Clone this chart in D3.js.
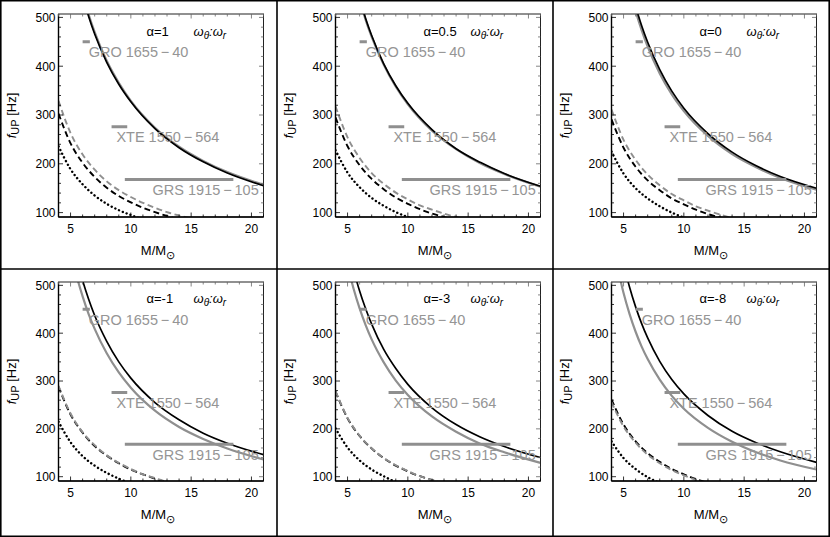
<html>
<head>
<meta charset="utf-8">
<style>
  body { margin: 0; background: #fff; }
  svg { display: block; font-family: "Liberation Sans", Arial, sans-serif; }
  .tick-label { font-size: 12px; fill: #000; }
  .src-label { font-size: 14.5px; fill: #959595; }
</style>
</head>
<body>
<div id="chart"><svg></svg></div>
<script src="https://d3js.org/d3.v7.min.js"></script>
<script>
// panel values of alpha, left-to-right then top-to-bottom
var alphaLabels = ["1", "0.5", "0", "-1", "-3", "-8"];

// masses where the curves were read (M/Msun)
var massSolid = [4.5, 5, 5.5, 6, 6.5, 7, 8, 9, 10, 12, 14, 16, 18, 21];
var massLow = [4, 5, 6, 7, 8, 9, 10, 11, 12, 13, 14, 15];

// f_UP [Hz]
var blackSolid = [
  [726, 653, 594, 544, 502, 466, 408, 363, 327, 272, 233, 204, 181, 155],
  [720, 648, 589, 540, 498, 463, 405, 360, 324, 270, 231, 203, 180, 154],
  [698, 628, 571, 523, 483, 449, 393, 349, 314, 262, 224, 196, 174, 150],
  [680, 612, 556, 510, 471, 437, 383, 340, 306, 255, 219, 191, 170, 146],
  [651, 586, 533, 488, 451, 419, 366, 326, 293, 244, 209, 183, 163, 140],
  [607, 546, 496, 455, 420, 390, 341, 303, 273, 228, 195, 171, 152, 130]
];
var graySolid = [
  [731, 658, 598, 548, 506, 470, 411, 366, 329, 274, 235, 206, 183, 157],
  [716, 644, 585, 537, 495, 460, 403, 358, 322, 268, 230, 201, 179, 153],
  [684, 616, 560, 513, 474, 440, 385, 342, 308, 257, 220, 193, 171, 147],
  [636, 572, 520, 477, 440, 409, 358, 318, 286, 238, 204, 179, 159, 136],
  [602, 542, 493, 452, 417, 387, 339, 301, 271, 226, 194, 169, 151, 129],
  [538, 484, 440, 403, 372, 346, 303, 269, 242, 202, 173, 151, 134, 115]
];
var grayDashed = [
  [329, 263, 219, 188, 164, 146, 132, 120, 110, 101, 94, 88],
  [318, 254, 212, 181, 159, 141, 127, 115, 106, 98, 91, 85],
  [311, 249, 208, 178, 156, 138, 125, 113, 104, 96, 89, 83],
  [290, 232, 193, 166, 145, 129, 116, 105, 97, 89, 83, 77],
  [279, 223, 186, 159, 139, 124, 112, 101, 93, 86, 80, 74],
  [256, 205, 171, 146, 128, 114, 103, 93, 85, 79, 73, 68]
];
var blackDashed = [
  [303, 242, 202, 173, 151, 134, 121, 110, 101, 93, 86, 81],
  [295, 236, 197, 169, 148, 131, 118, 107, 98, 91, 84, 79],
  [291, 233, 194, 166, 146, 129, 117, 106, 97, 90, 83, 78],
  [288, 230, 192, 164, 144, 128, 115, 105, 96, 88, 82, 77],
  [278, 222, 185, 159, 139, 123, 111, 101, 93, 85, 79, 74],
  [261, 209, 174, 149, 131, 116, 105, 95, 87, 80, 75, 70]
];
var blackDotted = [
  [236, 189, 158, 135, 118, 105, 95, 86, 79, 73, 68, 63],
  [228, 182, 152, 130, 114, 101, 91, 83, 76, 70, 65, 61],
  [225, 180, 150, 129, 113, 100, 90, 82, 75, 69, 64, 60],
  [215, 172, 143, 123, 108, 96, 86, 78, 72, 66, 61, 57],
  [201, 161, 134, 115, 101, 89, 81, 73, 67, 62, 58, 54],
  [174, 139, 116, 99, 87, 77, 70, 63, 58, 53, 50, 46]
];

// observed sources: mass range and QPO frequency
var sourceNames = ["GRO 1655\u2009\u2212\u200940", "XTE 1550\u2009\u2212\u2009564", "GRS 1915\u2009\u2212\u2009105"];
var sourceMassLo = [6.0, 8.4, 9.5];
var sourceMassHi = [6.6, 9.7, 18.5];
var sourceFreq = [450, 276, 168];
var sourceLabelM = [6.5, 8.8, 11.8];
var sourceLabelF = [429, 255, 146];

var xTicks = [5, 10, 15, 20];
var yTicks = [100, 200, 300, 400, 500];

var W = 830, H = 537;
var colX = [0, 277, 553, 830];
var rowY = [0, 269, 537];
var plotTop = [14, 282];
var plotBottom = [217, 481];
var gray = "#8f8f8f";

var svg = d3.select("#chart svg").attr("width", W).attr("height", H);

function drawPanel(i) {
  var c = i % 3, r = Math.floor(i / 3);
  var left = colX[c] + 58.5, right = left + 205;
  var top = plotTop[r], bottom = plotBottom[r];

  var x = d3.scaleLinear().domain([4, 21]).range([left, right]);
  var y = d3.scaleLinear().domain([91, 507]).range([bottom, top]);

  var g = svg.append("g");
  var clipId = "clip" + i;
  g.append("clipPath").attr("id", clipId)
    .append("rect").attr("x", left).attr("y", top)
    .attr("width", right - left).attr("height", bottom - top);

  var plot = g.append("g").attr("clip-path", "url(#" + clipId + ")");

  var line = d3.line()
    .x(function(d) { return x(d[0]); })
    .y(function(d) { return y(d[1]); })
    .curve(d3.curveMonotoneX);

  function curve(ms, vals, color, width, dash, cap) {
    plot.append("path")
      .datum(ms.map(function(m, k) { return [m, vals[k]]; }))
      .attr("d", line)
      .attr("fill", "none")
      .attr("stroke", color)
      .attr("stroke-width", width)
      .attr("stroke-dasharray", dash)
      .attr("stroke-linecap", cap || "butt");
  }

  curve(massLow, blackDotted[i], "#000", 2.4, "0.1,4", "round");
  curve(massLow, blackDashed[i], "#000", 1.9, "6,3.5");
  curve(massLow, grayDashed[i], gray, 1.9, "6,3.5");
  curve(massSolid, graySolid[i], gray, 2.2, null);
  curve(massSolid, blackSolid[i], "#000", 1.7, null);

  // source bars and names
  sourceNames.forEach(function(name, k) {
    plot.append("line")
      .attr("x1", x(sourceMassLo[k])).attr("x2", x(sourceMassHi[k]))
      .attr("y1", y(sourceFreq[k])).attr("y2", y(sourceFreq[k]))
      .attr("stroke", gray).attr("stroke-width", 3);
    plot.append("text").attr("class", "src-label")
      .attr("x", x(sourceLabelM[k])).attr("y", y(sourceLabelF[k]))
      .attr("dy", "0.36em")
      .text(name);
  });

  // frame
  g.append("rect").attr("x", left).attr("y", top)
    .attr("width", right - left).attr("height", bottom - top)
    .attr("fill", "none").attr("stroke", "#222").attr("stroke-width", 1);
  g.append("line").attr("x1", left).attr("x2", left).attr("y1", top).attr("y2", bottom)
    .attr("stroke", "#000").attr("stroke-width", 1.4);
  g.append("line").attr("x1", left).attr("x2", right).attr("y1", bottom).attr("y2", bottom)
    .attr("stroke", "#000").attr("stroke-width", 1.4);

  // ticks, inward on all four sides
  var xMinor = d3.range(4, 22, 1);
  var yMinor = d3.range(100, 507, 20);
  var ticks = g.append("g").attr("stroke", "#000").attr("stroke-width", 0.8);
  xMinor.forEach(function(v) {
    var len = xTicks.indexOf(v) >= 0 ? 4.5 : 2.5;
    ticks.append("line").attr("x1", x(v)).attr("x2", x(v)).attr("y1", bottom).attr("y2", bottom - len);
    ticks.append("line").attr("x1", x(v)).attr("x2", x(v)).attr("y1", top).attr("y2", top + len)
      .attr("stroke", "#666");
  });
  yMinor.forEach(function(v) {
    var len = yTicks.indexOf(v) >= 0 ? 4.5 : 2.5;
    ticks.append("line").attr("x1", left).attr("x2", left + len).attr("y1", y(v)).attr("y2", y(v));
    ticks.append("line").attr("x1", right).attr("x2", right - len).attr("y1", y(v)).attr("y2", y(v))
      .attr("stroke", "#666");
  });

  // tick labels
  xTicks.forEach(function(v) {
    g.append("text").attr("class", "tick-label")
      .attr("x", x(v)).attr("y", bottom + 12).attr("dy", "0.36em")
      .attr("text-anchor", "middle").text(v);
  });
  yTicks.forEach(function(v) {
    g.append("text").attr("class", "tick-label")
      .attr("x", left - 3).attr("y", y(v)).attr("dy", "0.36em")
      .attr("text-anchor", "end").text(v);
  });

  // axis titles
  var xt = g.append("text").attr("x", (left + right) / 2 - 3).attr("y", bottom + 38)
    .attr("text-anchor", "middle").style("font-size", "13px");
  xt.append("tspan").text("M/M");
  xt.append("tspan").attr("dy", 4).style("font-size", "11px").text("\u2299");

  var yt = g.append("text")
    .attr("transform", "translate(" + (colX[c] + 16) + "," + ((top + bottom) / 2) + ") rotate(-90)")
    .attr("text-anchor", "middle").style("font-size", "13px");
  yt.append("tspan").style("font-style", "italic").text("f");
  yt.append("tspan").attr("dy", 3).style("font-size", "11px").text("UP");
  yt.append("tspan").attr("dy", -3).text(" [Hz]");

  // panel annotations
  g.append("text").attr("x", x(11.3)).attr("y", y(472)).attr("dy", "0.36em")
    .style("font-size", "13px").text("\u03b1=" + alphaLabels[i]);
  var w = g.append("text").attr("x", x(15.2)).attr("y", y(472)).attr("dy", "0.36em")
    .style("font-size", "13px").style("font-style", "italic");
  w.append("tspan").text("\u03c9");
  w.append("tspan").attr("dy", 3).style("font-size", "10px").text("\u03b8");
  w.append("tspan").attr("dy", -3).text(":\u03c9");
  w.append("tspan").attr("dy", 3).style("font-size", "10px").text("r");
}

d3.range(6).forEach(drawPanel);

// grid of panel borders
var borders = svg.append("g").attr("stroke", "#000").attr("stroke-width", 1.6);
colX.forEach(function(v) {
  var xx = Math.min(Math.max(v, 0.8), W - 0.8);
  borders.append("line").attr("x1", xx).attr("x2", xx).attr("y1", 0).attr("y2", H);
});
rowY.forEach(function(v) {
  var yy = Math.min(Math.max(v, 0.8), H - 0.8);
  borders.append("line").attr("x1", 0).attr("x2", W).attr("y1", yy).attr("y2", yy);
});
</script>
</body>
</html>
